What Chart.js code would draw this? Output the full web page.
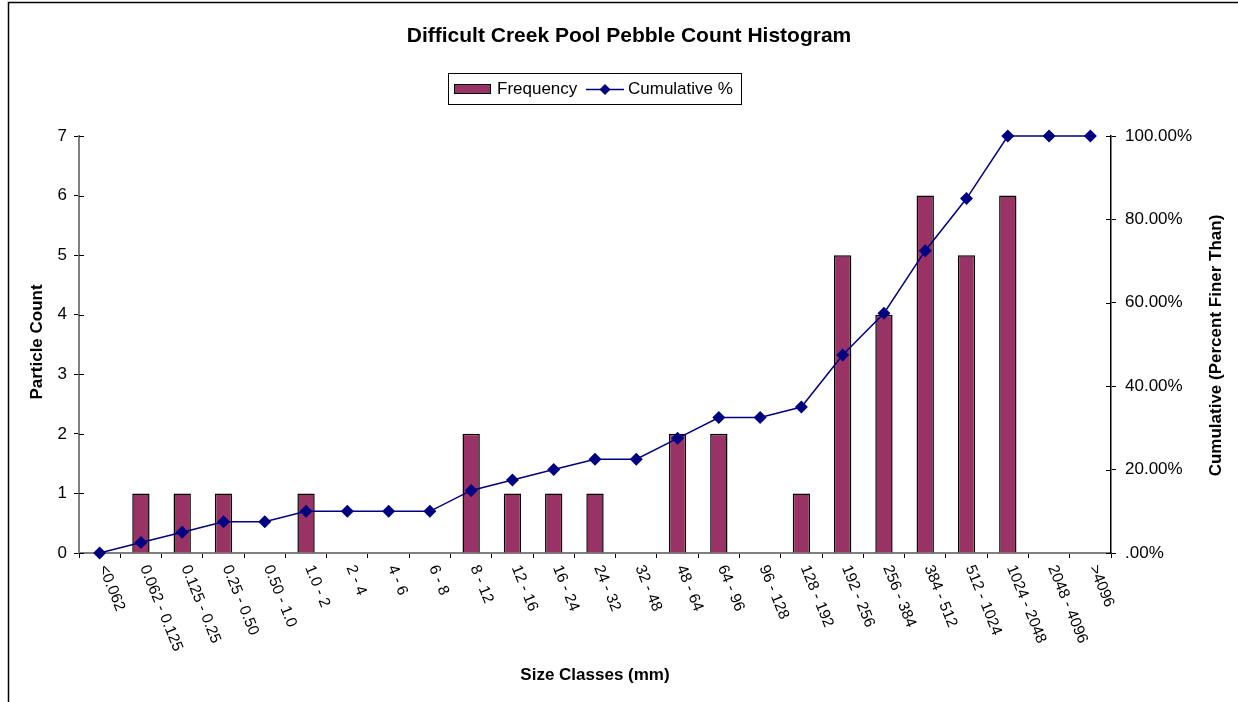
<!DOCTYPE html>
<html>
<head>
<meta charset="utf-8">
<script src="https://cdn.jsdelivr.net/npm/chart.js@4.4.1/dist/chart.umd.min.js"></script>
<style>
html,body{margin:0;padding:0;background:#fff;}
#wrap{width:1238px;height:702px;position:relative;}
canvas{display:block;}
</style>
</head>
<body>
<div id="wrap"><canvas id="c" width="1238" height="702"></canvas></div>
<script>
const categories = ["<0.062","0.062 - 0.125","0.125 - 0.25","0.25 - 0.50","0.50 - 1.0","1.0 - 2","2 - 4","4 - 6","6 - 8","8 - 12","12 - 16","16 - 24","24 - 32","32 - 48","48 - 64","64 - 96","96 - 128","128 - 192","192 - 256","256 - 384","384 - 512","512 - 1024","1024 - 2048","2048 - 4096",">4096"];
const frequency = [0,1,1,1,0,1,0,0,0,2,1,1,1,0,2,2,0,1,5,4,6,5,6,0,0];
const cumulativePct = [0,2.5,5,7.5,7.5,10,10,10,10,15,17.5,20,22.5,22.5,27.5,32.5,32.5,35,47.5,57.5,72.5,85,100,100,100];
const countTicks = [0,1,2,3,4,5,6,7];
const pctTicks = [0,20,40,60,80,100];

const chartTitle = "Difficult Creek Pool Pebble Count Histogram";
const xTitle = "Size Classes (mm)";
const yTitle = "Particle Count";
const y1Title = "Cumulative (Percent Finer Than)";

const FONT = "'Liberation Sans', Arial, Helvetica, sans-serif";
const BAR_COLOR = '#993366';
const LINE_COLOR = '#000080';

function pctLabel(v){ return v === 0 ? '.00%' : v.toFixed(2) + '%'; }

const decor = {
  id: 'decor',
  afterDraw(chart){
    const ctx = chart.ctx;
    const xs = chart.scales.x, ys = chart.scales.y, y1 = chart.scales.y1;
    ctx.save();
    // frame
    ctx.strokeStyle = '#000';
    ctx.lineWidth = 1.5;
    ctx.beginPath();
    ctx.moveTo(8.5, 710); ctx.lineTo(8.5, 2.5); ctx.lineTo(1250, 2.5);
    ctx.stroke();

    // chart title
    ctx.fillStyle = '#000';
    ctx.font = 'bold 21px ' + FONT;
    ctx.textAlign = 'center';
    ctx.textBaseline = 'alphabetic';
    ctx.fillText(chartTitle, 629, 42);

    // legend
    const barDs = chart.data.datasets[1], lineDs = chart.data.datasets[0];
    ctx.strokeStyle = '#000';
    ctx.lineWidth = 1;
    ctx.strokeRect(448.5, 73.5, 293, 31);
    ctx.fillStyle = barDs.backgroundColor;
    ctx.fillRect(454.5, 84.5, 36, 9);
    ctx.strokeRect(454.5, 84.5, 36, 9);
    ctx.fillStyle = '#000';
    ctx.font = '17px ' + FONT;
    ctx.textAlign = 'left';
    ctx.textBaseline = 'middle';
    ctx.fillText(barDs.label, 497, 89.5);
    ctx.strokeStyle = lineDs.borderColor;
    ctx.lineWidth = 1.5;
    ctx.beginPath(); ctx.moveTo(586, 89.5); ctx.lineTo(624, 89.5); ctx.stroke();
    ctx.fillStyle = lineDs.borderColor;
    ctx.beginPath();
    ctx.moveTo(605, 84); ctx.lineTo(610.5, 89.5); ctx.lineTo(605, 95); ctx.lineTo(599.5, 89.5); ctx.closePath(); ctx.fill();
    ctx.fillStyle = '#000';
    ctx.fillText(lineDs.label, 628, 89.5);

    // axis titles
    ctx.font = 'bold 17px ' + FONT;
    ctx.textAlign = 'center';
    ctx.textBaseline = 'middle';
    ctx.save(); ctx.translate(37.5, 342); ctx.rotate(-Math.PI/2); ctx.fillText(yTitle, 0, 0); ctx.restore();
    ctx.save(); ctx.translate(1216, 345.5); ctx.rotate(-Math.PI/2); ctx.fillText(y1Title, 0, 0); ctx.restore();
    ctx.textBaseline = 'alphabetic';
    ctx.fillText(xTitle, (xs.left + xs.right)/2, 680);

    // rotated category labels
    ctx.font = '15.5px ' + FONT;
    ctx.textAlign = 'left';
    ctx.textBaseline = 'middle';
    const ang = 68 * Math.PI / 180;
    categories.forEach((lab, i) => {
      const px = xs.getPixelForValue(i);
      ctx.save();
      ctx.translate(px + 3, 566);
      ctx.rotate(ang);
      ctx.fillText(lab, 0, 0);
      ctx.restore();
    });

    // inner tick marks on value axes
    ctx.strokeStyle = '#000';
    ctx.lineWidth = 1;
    ctx.beginPath();
    countTicks.forEach(v => { const py = Math.round(ys.getPixelForValue(v)) + 0.5; ctx.moveTo(ys.right, py); ctx.lineTo(ys.right + 5, py); });
    pctTicks.forEach(v => { const py = Math.round(y1.getPixelForValue(v)) + 0.5; ctx.moveTo(y1.left, py); ctx.lineTo(y1.left - 5, py); });
    ctx.stroke();
    ctx.restore();
  }
};

new Chart(document.getElementById('c'), {
  type: 'bar',
  data: {
    labels: categories,
    datasets: [
      {
        type: 'line', label: 'Cumulative %', data: cumulativePct, yAxisID: 'y1',
        borderColor: LINE_COLOR, backgroundColor: LINE_COLOR, borderWidth: 1.5,
        pointStyle: 'rectRot', pointRadius: 6.5, pointBorderWidth: 0,
        pointBackgroundColor: LINE_COLOR, tension: 0, clip: false, order: 0
      },
      {
        type: 'bar', label: 'Frequency', data: frequency, yAxisID: 'y',
        backgroundColor: BAR_COLOR, borderColor: '#000', borderWidth: 1.5,
        barPercentage: 0.42, categoryPercentage: 1, order: 1
      }
    ]
  },
  options: {
    responsive: false,
    animation: false,
    devicePixelRatio: 1,
    layout: { padding: { left: 0, right: 0, top: 136, bottom: 0 } },
    plugins: { legend: { display: false }, tooltip: { enabled: false }, title: { display: false } },
    scales: {
      x: {
        type: 'category', offset: true,
        grid: { display: true, drawOnChartArea: false, offset: true, tickLength: 5, color: '#000', lineWidth: 1 },
        border: { display: true, color: '#808080', width: 2 },
        ticks: { display: false },
        afterFit: s => { s.height = 149; }
      },
      y: {
        position: 'left', min: 0, max: 7,
        afterBuildTicks: s => { s.ticks = countTicks.map(v => ({ value: v })); },
        ticks: { color: '#000', font: { family: FONT, size: 17 }, padding: 7 },
        grid: { drawOnChartArea: false, tickLength: 5, color: '#000', lineWidth: 1 },
        border: { display: true, color: '#808080', width: 2 },
        afterFit: s => { s.width = 79; }
      },
      y1: {
        position: 'right', min: 0, max: 100,
        afterBuildTicks: s => { s.ticks = pctTicks.map(v => ({ value: v })); },
        ticks: { color: '#000', font: { family: FONT, size: 17 }, padding: 9, callback: v => pctLabel(v) },
        grid: { drawOnChartArea: false, tickLength: 5, color: '#000', lineWidth: 1 },
        border: { display: true, color: '#000', width: 1.5 },
        afterFit: s => { s.width = 127; }
      }
    }
  },
  plugins: [decor]
});
</script>
</body>
</html>
